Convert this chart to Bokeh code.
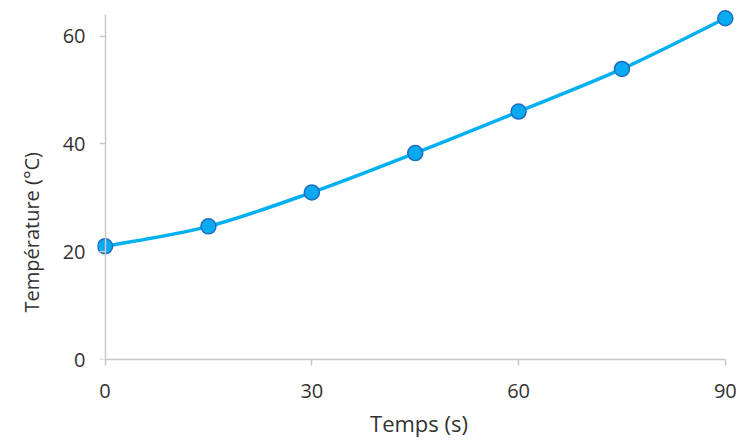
from bokeh.plotting import figure
from bokeh.models import Range1d, FixedTicker, Title, ColumnDataSource, LinearAxis
from bokeh.embed import file_html
from bokeh.resources import INLINE

# data
time_s = [0, 15, 30, 45, 60, 75, 90]
temp_c = [21.0, 24.7, 31.0, 38.3, 46.0, 53.9, 63.3]
x_ticks = [0, 30, 60, 90]
y_ticks = [0, 20, 40, 60]
x_label = "Temps (s)"
y_label = "Température (°C)"

FONT = "Open Sans"
TXT = "#333333"
AX = "#c8c8c8"

p = figure(width=740, height=440, output_backend="svg", toolbar_location=None,
           x_range=Range1d(-1.1, 92.2), y_range=Range1d(0, 66.6),
           min_border_left=95, min_border_right=0, min_border_top=0, min_border_bottom=0)
p.outline_line_color = None
p.grid.visible = False
p.background_fill_color = "white"
p.border_fill_color = "white"

# smooth curve (Catmull-Rom style bezier through data points)
n = len(time_s)
px = [time_s[0]] + time_s + [time_s[-1]]
py = [temp_c[0]] + temp_c + [temp_c[-1]]
x0, y0, x1, y1, cx0, cy0, cx1, cy1 = [], [], [], [], [], [], [], []
for i in range(n - 1):
    a = i + 1
    x0.append(px[a]); y0.append(py[a])
    x1.append(px[a + 1]); y1.append(py[a + 1])
    cx0.append(px[a] + (px[a + 1] - px[a - 1]) / 6)
    cy0.append(py[a] + (py[a + 1] - py[a - 1]) / 6)
    cx1.append(px[a + 1] - (px[a + 2] - px[a]) / 6)
    cy1.append(py[a + 1] - (py[a + 2] - py[a]) / 6)
bsrc = ColumnDataSource(dict(x0=x0, y0=y0, x1=x1, y1=y1, cx0=cx0, cy0=cy0, cx1=cx1, cy1=cy1))

# x axis
xa = p.xaxis[0]
xa.ticker = FixedTicker(ticks=x_ticks)
xa.bounds = (0, 90)
xa.axis_line_color = AX
xa.axis_line_width = 1.5
xa.major_tick_line_color = AX
xa.major_tick_line_width = 1.5
xa.major_tick_in = 0
xa.major_tick_out = 6
xa.minor_tick_line_color = None
xa.major_label_text_font = FONT
xa.major_label_text_font_size = "20px"
xa.major_label_text_color = TXT
xa.major_label_standoff = 18
xa.axis_label = x_label
xa.axis_label_text_font = FONT
xa.axis_label_text_font_size = "22px"
xa.axis_label_text_font_style = "normal"
xa.axis_label_text_color = TXT
xa.axis_label_standoff = 7

# y axis labels (left panel, no line/ticks)
ya = p.yaxis[0]
ya.ticker = FixedTicker(ticks=y_ticks)
ya.axis_line_color = None
ya.major_tick_line_color = None
ya.minor_tick_line_color = None
ya.major_tick_in = 0
ya.major_tick_out = 0
ya.major_label_text_font = FONT
ya.major_label_text_font_size = "20px"
ya.major_label_text_color = TXT
ya.major_label_standoff = 12

# y axis line + ticks at x = 0
yline = LinearAxis(ticker=FixedTicker(ticks=y_ticks), fixed_location=0, bounds=(0, 64),
                   axis_line_color=AX, axis_line_width=1.5,
                   major_tick_line_color=AX, major_tick_line_width=1.5,
                   major_tick_in=0, major_tick_out=6, minor_tick_line_color=None,
                   major_label_text_color=None)
p.add_layout(yline, "left")

p.bezier(x0="x0", y0="y0", x1="x1", y1="y1", cx0="cx0", cy0="cy0", cx1="cx1", cy1="cy1",
         source=bsrc, line_color="#00b0f0", line_width=3.5)
p.scatter(time_s, temp_c, size=15, fill_color="#0aaaf0", line_color="#1f6cc0", line_width=1.5)

t = Title(text=y_label, align="left", offset=47, text_font=FONT, text_font_size="20px",
          text_font_style="normal", text_color=TXT, standoff=30)
p.add_layout(t, "left")

open("out.html", "w").write(file_html(p, INLINE))
